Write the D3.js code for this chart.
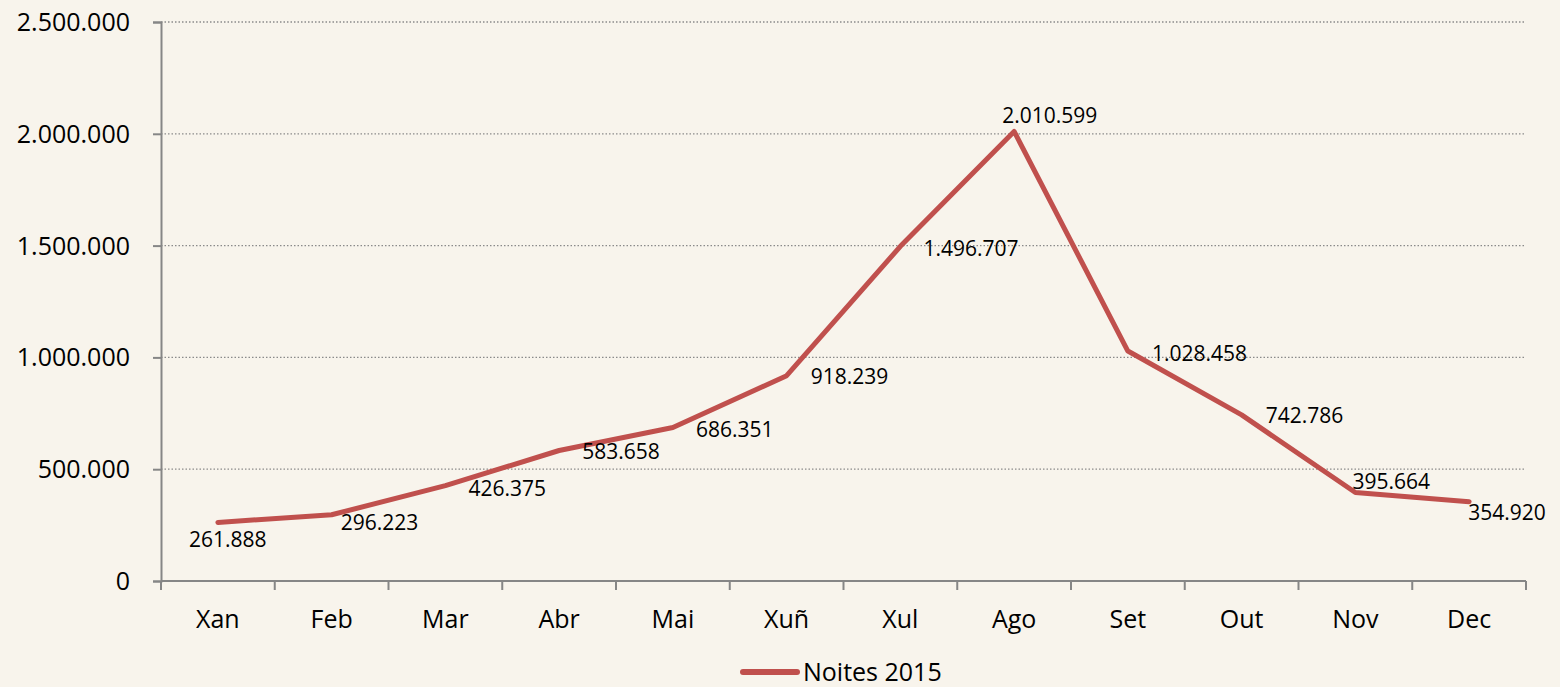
<!DOCTYPE html>
<html>
<head>
<meta charset="utf-8">
<script src="https://cdn.jsdelivr.net/npm/d3@7"></script>
<style>
  html, body { margin: 0; padding: 0; background: #F8F4EC; }
  svg { display: block; }
  text { font-family: "Open Sans", "Noto Sans", sans-serif; fill: #000; }
</style>
</head>
<body>
<div id="chart"></div>
<script>
const months = ["Xan", "Feb", "Mar", "Abr", "Mai", "Xuñ", "Xul", "Ago", "Set", "Out", "Nov", "Dec"];
const noites2015 = [261888, 296223, 426375, 583658, 686351, 918239, 1496707, 2010599, 1028458, 742786, 395664, 354920];
const yTicks = [0, 500000, 1000000, 1500000, 2000000, 2500000];
const seriesName = "Noites 2015";

// label placement tweaks (dx, dy from the point), like Excel put them
const labelOffsets = [[-29, 17], [9, 8], [23, 3], [23, 1], [23, 2], [24, 1], [23, 2], [-12, -16], [24, 2], [24, 1], [-3, -11], [-1, 11]];

const W = 1560, H = 687;
const margin = { top: 22, right: 34, bottom: 106, left: 161 };
const width = W - margin.left - margin.right;
const height = H - margin.top - margin.bottom;

// "2.500.000" style numbers
const fmt = d3.formatLocale({ decimal: ",", thousands: ".", grouping: [3], currency: ["", "€"] }).format(",d");

const svg = d3.select("#chart").append("svg")
  .attr("width", W)
  .attr("height", H);

const g = svg.append("g")
  .attr("transform", `translate(${margin.left},${margin.top})`);

const x = d3.scaleBand().domain(months).range([0, width]).padding(0);
const y = d3.scaleLinear().domain([0, 2500000]).range([height, 0]);

// gridlines
g.selectAll(".grid")
  .data(yTicks.filter(d => d > 0))
  .enter().append("line")
  .attr("class", "grid")
  .attr("x1", 0).attr("x2", width)
  .attr("y1", d => y(d)).attr("y2", d => y(d))
  .attr("stroke", "#8a8a8a")
  .attr("stroke-width", 1.3)
  .attr("stroke-dasharray", "1.5,2");

// y axis
const yAxis = g.append("g")
  .call(d3.axisLeft(y).tickValues(yTicks).tickFormat(fmt).tickSize(8).tickPadding(23));
yAxis.select(".domain").attr("stroke", "#868686").attr("stroke-width", 2);
yAxis.selectAll(".tick line").attr("stroke", "#868686").attr("stroke-width", 2);
yAxis.selectAll("text").attr("font-size", 25).attr("font-family", "Open Sans").attr("dy", "0.34em");

// x axis, ticks on category boundaries
const xAxis = g.append("g")
  .attr("transform", `translate(0,${height})`);
xAxis.append("line")
  .attr("x1", 0).attr("x2", width)
  .attr("stroke", "#868686").attr("stroke-width", 2);
xAxis.selectAll(".xtick")
  .data(months.concat(["end"]))
  .enter().append("line")
  .attr("class", "xtick")
  .attr("x1", (d, i) => i < months.length ? x(d) : width)
  .attr("x2", (d, i) => i < months.length ? x(d) : width)
  .attr("y1", 0).attr("y2", 9)
  .attr("stroke", "#868686").attr("stroke-width", 2);
xAxis.selectAll(".xlabel")
  .data(months)
  .enter().append("text")
  .attr("class", "xlabel")
  .attr("x", d => x(d) + x.bandwidth() / 2)
  .attr("y", 47)
  .attr("text-anchor", "middle")
  .attr("font-size", 25)
  .text(d => d);

// the line
const line = d3.line()
  .x((d, i) => x(months[i]) + x.bandwidth() / 2)
  .y(d => y(d));

g.append("path")
  .datum(noites2015)
  .attr("d", line)
  .attr("fill", "none")
  .attr("stroke", "#C0504D")
  .attr("stroke-width", 5)
  .attr("stroke-linejoin", "round")
  .attr("stroke-linecap", "round");

// data labels
g.selectAll(".lbl")
  .data(noites2015)
  .enter().append("text")
  .attr("class", "lbl")
  .attr("x", (d, i) => x(months[i]) + x.bandwidth() / 2 + labelOffsets[i][0])
  .attr("y", (d, i) => y(d) + labelOffsets[i][1])
  .attr("dy", "0.36em")
  .attr("font-size", 21)
  .text(d => fmt(d));

// legend
const legend = svg.append("g")
  .attr("transform", `translate(${W / 2 - 37},672)`);
legend.append("line")
  .attr("x1", 0).attr("x2", 54)
  .attr("stroke", "#C0504D")
  .attr("stroke-width", 6)
  .attr("stroke-linecap", "round");
legend.append("text")
  .attr("x", 60)
  .attr("dy", "0.34em")
  .attr("font-size", 25)
  .text(seriesName);
</script>
</body>
</html>
